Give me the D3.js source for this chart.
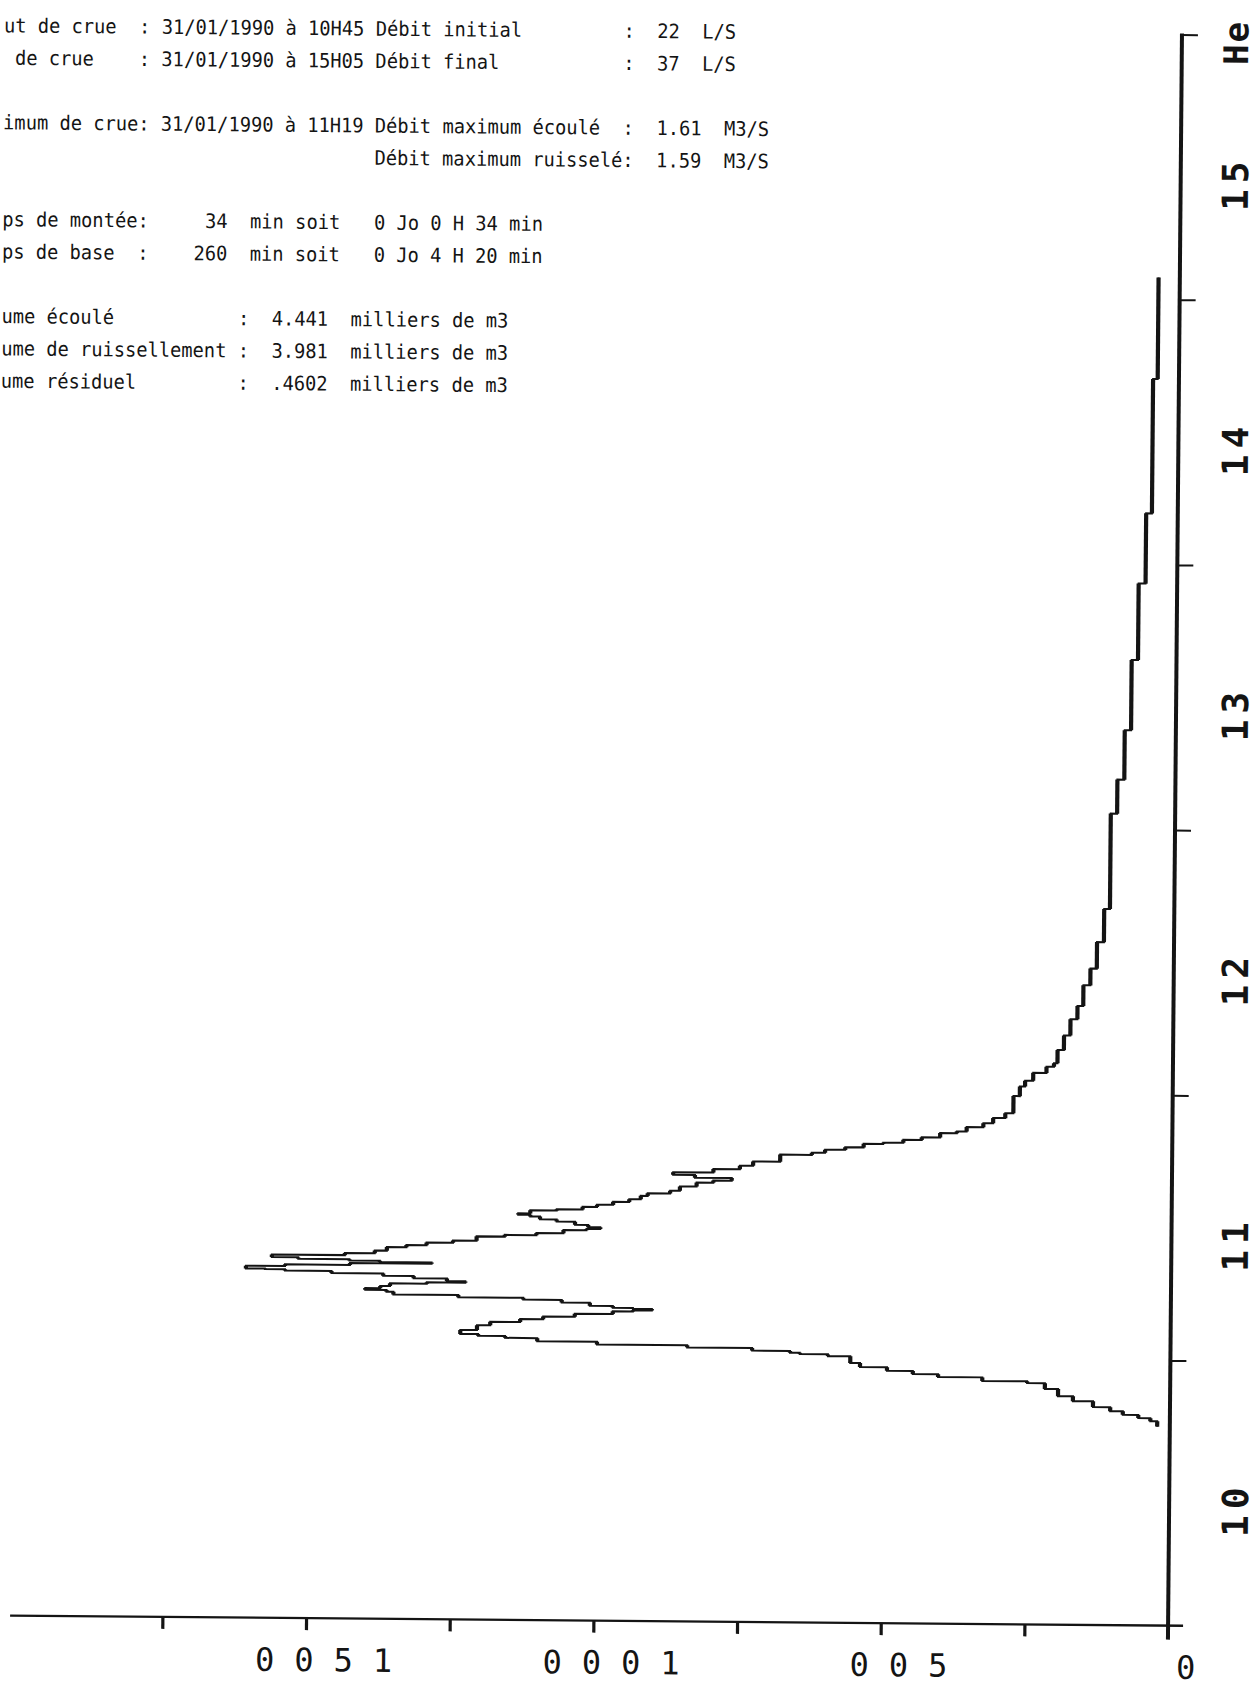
<!DOCTYPE html>
<html><head><meta charset="utf-8">
<script src="https://cdn.jsdelivr.net/npm/d3@7"></script>
<style>
html,body{margin:0;padding:0;background:#fff;}
svg{display:block;}
text{white-space:pre;}
</style></head><body>
<svg id="chart" width="1259" height="1688"></svg>
<script>
// Hydrogramme de crue du 31/01/1990 : minutes écoulées depuis le début de crue (10H45) et débit (L/S)
const startHour = 10.75;
const minutes = [0,1.2,1.9,2.6,3.4,4.3,5.6,6.7,8.3,9.6,
  10.0,10.8,11.4,12.1,12.9,13.8,15.3,15.7,16.0,16.4,
  17.0,17.5,18.1,18.8,19.2,19.6,20.5,21.6,22.4,23.1,
  23.7,24.4,25.0,25.3,25.6,25.8,26.2,26.9,27.5,27.9,
  28.4,29.0,29.4,29.8,30.3,30.9,31.2,31.5,32.1,32.6,
  33.1,33.6,33.9,34.0,34.6,35.0,35.4,35.7,36.0,36.3,
  36.6,37.2,37.7,38.3,39.1,39.6,40.2,40.7,41.7,42.1,
  42.6,43.3,43.6,44.0,44.5,45.2,45.7,46.3,46.7,47.0,
  47.7,48.0,48.6,49.1,49.8,50.4,51.2,51.8,52.4,53.4,
  54.3,54.8,55.4,56.0,56.6,57.4,58.2,59.2,60.8,61.3,
  62.0,62.6,63.4,63.7,64.4,65.0,66.0,66.4,67.4,68.3,
  69.5,70.6,74.5,76.7,78.0,79.8,81.2,82.0,85.0,88.3,
  92.0,95.0,99.7,103.5,109.5,117.0,138.6,146.3,157.5,173.4,
  190.7,206.6,237.0,260.0];
const debit = [22,34,55,82,104,134,169,195,218,249,
  327,404,448,493,540,557,596,645,662,728,
  841,998,1102,1158,1205,1236,1207,1184,1132,1092,
  1037,971,936,903,936,971,1011,1060,1127,1240,
  1353,1365,1402,1376,1359,1295,1228,1260,1318,1371,
  1461,1542,1577,1610,1542,1429,1287,1377,1430,1519,
  1565,1438,1386,1365,1331,1296,1250,1209,1160,1105,
  1058,1018,994,1015,1038,1070,1099,1116,1137,1116,
  1070,1025,1000,972,944,924,912,873,856,827,
  798,766,830,868,798,752,729,682,627,604,
  569,537,503,468,436,404,375,358,329,312,
  291,277,266,257,243,220,207,201,190,179,
  167,157,145,134,122,112,101,89,78,67,
  55,45,37,37];

// Axes
const hourTicks = [11,12,13,14,15,16];
const hourLabels = [10,11,12,13,14,15];
const debitTicks = [250,500,750,1000,1250,1500,1750];
const debitLabels = [0,500,1000,1500];
const hourTitle = "He";

// En-tête (colonnes 3 et suivantes de la sortie imprimante)
const infoText = [
  "ut de crue  : 31/01/1990 à 10H45 Débit initial         :  22  L/S",
  " de crue    : 31/01/1990 à 15H05 Débit final           :  37  L/S",
  "imum de crue: 31/01/1990 à 11H19 Débit maximum écoulé  :  1.61  M3/S",
  "                                 Débit maximum ruisselé:  1.59  M3/S",
  "ps de montée:     34  min soit   0 Jo 0 H 34 min",
  "ps de base  :    260  min soit   0 Jo 4 H 20 min",
  "ume écoulé           :  4.441  milliers de m3",
  "ume de ruissellement :  3.981  milliers de m3",
  "ume résiduel         :  .4602  milliers de m3"
];
const infoRows = [0,1,3,4,6,7,9,10,11];

const W = 1259, H = 1688;
const tilt = 0.5, cx = 640, cy = 830;               // the printed sheet sits slightly askew
const sinT = Math.sin(tilt * Math.PI / 180);
const svg = d3.select("#chart");
svg.append("rect").attr("width", W).attr("height", H).attr("fill", "#fff");
const g = svg.append("g").attr("transform", `rotate(${tilt} ${cx} ${cy})`);

const ink = "#141414";
const x = d3.scaleLinear().domain([0, 2000]).range([1175, 25.6]);   // débit, croissant vers la gauche
const y = d3.scaleLinear().domain([10, 16]).range([1621, 29.8]);    // heure, croissante vers le haut

// ---- header text block
const pitch = 11.27, fsz = 20, adv = 0.602 * fsz, sx = pitch / adv;
const info = g.append("g").attr("transform", `scale(${sx},1)`);
info.selectAll("text").data(infoText).join("text")
  .attr("xml:space", "preserve")
  .attr("x", -3 / sx)
  .attr("y", (d, i) => 38 + infoRows[i] * 32.3)
  .attr("font-family", "DejaVu Sans Mono, Liberation Mono, monospace")
  .attr("font-size", fsz)
  .attr("fill", ink)
  .text(d => d);

// ---- discharge axis (bottom)
const qAxis = g.append("g").attr("transform", `translate(0,${y(10)})`)
  .call(d3.axisBottom(x).tickValues(debitTicks).tickSize(12).tickFormat(""));
qAxis.select(".domain").remove();
qAxis.selectAll(".tick line").attr("stroke", ink).attr("stroke-width", 3.2);
g.append("line")
  .attr("x1", x(2015)).attr("x2", x(0) + 15)
  .attr("y1", y(10)).attr("y2", y(10))
  .attr("stroke", ink).attr("stroke-width", 2.3);

const ls = 20;
g.append("g").selectAll("text").data(debitLabels).join("text")
  .attr("x", d => x(d) + 18 + ls / 2)
  .attr("y", y(10) + 53)
  .attr("text-anchor", "middle")
  .attr("font-family", "DejaVu Sans Mono, monospace")
  .attr("font-size", 32)
  .attr("letter-spacing", ls)
  .attr("fill", ink)
  .text(d => String(d).split("").reverse().join(""));

// ---- time axis (right)
const tAxis = g.append("g").attr("transform", `translate(${x(0)},0)`)
  .call(d3.axisRight(y).tickValues(hourTicks).tickSize(16).tickFormat(""));
tAxis.select(".domain").remove();
tAxis.selectAll(".tick line").attr("stroke", ink).attr("stroke-width", 2);
g.append("line")
  .attr("x1", x(0)).attr("x2", x(0))
  .attr("y1", y(16) - 1).attr("y2", y(10) + 14)
  .attr("stroke", ink).attr("stroke-width", 4);

// hour labels keep a constant distance from the right page edge
const labelEdge = 1248;
const labelX = yy => labelEdge + (yy - cy) * sinT;
const tls = 6;
const tl = g.append("g").attr("font-family", "DejaVu Sans Mono, monospace")
  .attr("font-weight", "bold").attr("font-size", 36).attr("fill", ink)
  .attr("letter-spacing", tls);
tl.selectAll("text.h").data(hourLabels).join("text").attr("class", "h")
  .attr("transform", d => {
    const yy = y(d + 0.43) - tls / 2;
    return `translate(${labelX(yy)},${yy}) rotate(-90)`;
  })
  .attr("text-anchor", "middle")
  .text(d => d);
tl.append("text")
  .attr("transform", `translate(${labelX(y(16) + 30)},${y(16) + 30}) rotate(-90)`)
  .attr("text-anchor", "start")
  .attr("font-size", 34)
  .attr("letter-spacing", 2)
  .text(hourTitle);

// ---- hydrograph (step curve, débit constant between two records)
const pts = minutes.map((m, i) => ({ h: startHour + m / 60, q: debit[i] }));
const stepLine = d3.line().x(d => x(d.q)).y(d => y(d.h)).curve(d3.curveStepBefore);
g.append("path").datum(pts)
  .attr("d", stepLine)
  .attr("fill", "none").attr("stroke", ink).attr("stroke-width", 2);

// the plotter pen marks constant-flow runs with a heavier trace
g.append("g").selectAll("line").data(pts.slice(0, -1)).join("line")
  .attr("x1", d => x(d.q)).attr("x2", d => x(d.q))
  .attr("y1", d => y(d.h)).attr("y2", (d, i) => y(pts[i + 1].h))
  .attr("stroke", ink).attr("stroke-width", 4.2);
</script>
</body></html>
